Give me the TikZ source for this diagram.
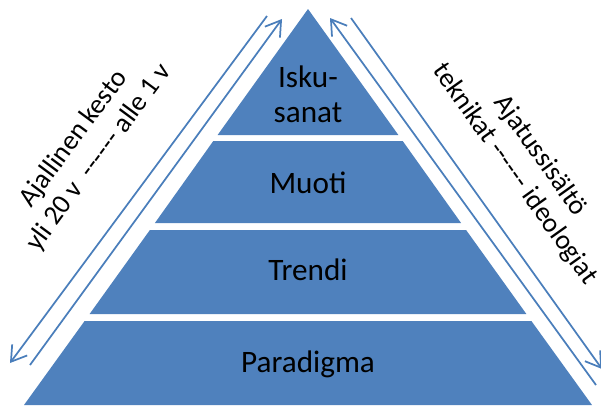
\documentclass[tikz,border=0pt]{standalone}
\usepackage{fontspec}
\setmainfont{Carlito}
\usetikzlibrary{arrows.meta}
\definecolor{pyrblue}{HTML}{4F81BD}
\definecolor{arrblue}{HTML}{4A7EBB}
\begin{document}
\begin{tikzpicture}[x=0.75pt,y=-0.75pt,
  layer/.style={fill=pyrblue},
  lbl/.style={font=\fontsize{23.4}{26}\selectfont, text=black, inner sep=0pt, anchor=base},
  side/.style={font=\fontsize{20.6}{23.5}\selectfont, align=center, inner sep=0pt},
  arr/.style={draw=arrblue, line width=1.3pt, -{Straight Barb[length=11pt,width=14pt]}}]
\useasboundingbox (0,0) rectangle (601,405);

% pyramid layers
\fill[layer] (308,9) -- (398.4,135) -- (217.6,135) -- cycle;
\fill[layer] (213.3,141) -- (402.7,141) -- (461.1,223) -- (154.9,223) -- cycle;
\fill[layer] (149.9,230) -- (466.1,230) -- (526.4,314) -- (89.6,314) -- cycle;
\fill[layer] (84.6,321) -- (531.4,321) -- (592,405) -- (24,405) -- cycle;

% layer labels
\node[lbl] (isku) at (308,87) {Isku-};
\node[lbl] (sanat) at (308,122) {sanat};
\node[lbl] (muoti) at (308,193) {Muoti};
\node[lbl] (trendi) at (308,280) {Trendi};
\node[lbl] (paradigma) at (308,372) {Paradigma};

% side arrows
\coordinate (lo1) at (267,16);  \coordinate (lo2) at (10,363);
\coordinate (li1) at (30,365);  \coordinate (li2) at (282,19);
\coordinate (ri1) at (596,385); \coordinate (ri2) at (330,18);
\coordinate (ro1) at (351,18);  \coordinate (ro2) at (602,369);
\draw[arr] (lo1) -- (lo2);
\draw[arr] (li1) -- (li2);
\draw[arr] (ri1) -- (ri2);
\draw[arr] (ro1) -- (ro2);

% side captions
\node[side, rotate=53.5] (kesto) at (86.5,148)
  {Ajallinen kesto\\yli 20 v \ -{}-{}-{}-{}-{}- alle 1 v};
\node[side, rotate=-54.5] (sisalto) at (527.5,165)
  {Ajatussisältö\\teknikat -{}-{}-{}-{}-{}- ideologiat};
\end{tikzpicture}
\end{document}
